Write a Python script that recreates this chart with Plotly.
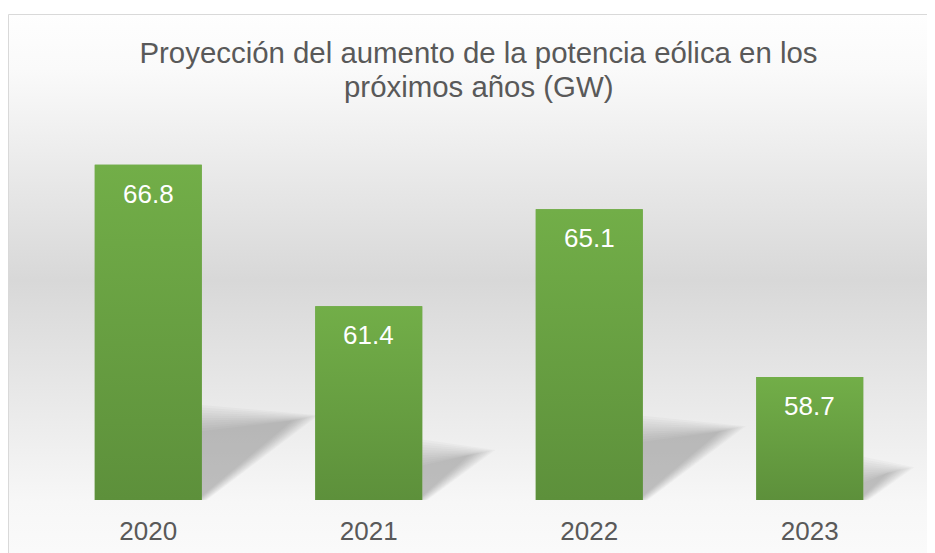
import base64
import plotly.graph_objects as go

# ---- data ----
years = ["2020", "2021", "2022", "2023"]
values = [66.8, 61.4, 65.1, 58.7]
title_line1 = "Proyección del aumento de la potencia eólica en los"
title_line2 = "próximos años (GW)"

# ---- layout constants (page has an 8px body margin) ----
W, H = 927, 545
L, R, T, B = 30, 15, 73, 53
Y_MIN, Y_MAX = 54, 70
BAR_W = 0.485
FONT = "Liberation Sans, Arial, sans-serif"
TXT = "#595959"
TITLE_SIZE = 29.4

plot_w = W - L - R
plot_h = H - T - B
px_per_x = plot_w / len(years)
px_per_y = plot_h / (Y_MAX - Y_MIN)

def paper_x(px):
    return (px - L) / plot_w

def paper_y(py):
    return (H - B - py) / plot_h

xs = list(range(len(years)))

fig = go.Figure()

# solid bars (base layer)
fig.add_trace(go.Bar(x=xs, y=values, width=BAR_W, marker=dict(color="#66a042", line=dict(width=0)),
                     hoverinfo="skip", showlegend=False))

# soft perspective shadows computed from each bar's height
N_LAYERS = 11
for xi, v in zip(xs, values):
    h_px = (v - Y_MIN) * px_per_y
    xr = xi + BAR_W / 2
    dx = 0.31 * h_px / px_per_x
    dy = 0.245 * h_px / px_per_y
    for k in range(N_LAYERS):
        g = (k - 5) * 2.6  # pixels of spread
        gx = g / px_per_x
        gy = g / px_per_y
        sx = [xr, xr, xr + dx + gx, xr]
        sy = [Y_MIN - gy * 0.3, Y_MIN + dy + gy, Y_MIN + dy + gy * 0.2, Y_MIN - gy * 0.3]
        fig.add_trace(go.Scatter(x=sx, y=sy, mode="lines", fill="toself",
                                 fillcolor="rgba(90,90,90,0.037)", line=dict(width=0),
                                 hoverinfo="skip", showlegend=False))

# gradient overlay on bars
for xi, v in zip(xs, values):
    x0, x1 = xi - BAR_W / 2, xi + BAR_W / 2
    fig.add_trace(go.Scatter(
        x=[x0, x1, x1, x0, x0], y=[Y_MIN, Y_MIN, v, v, Y_MIN], mode="lines", fill="toself",
        line=dict(width=0),
        fillgradient=dict(type="vertical", start=Y_MIN, stop=v,
                          colorscale=[[0, "#5d903b"], [1, "#72ae48"]]),
        hoverinfo="skip", showlegend=False))

# data labels
for xi, v in zip(xs, values):
    fig.add_annotation(x=xi, y=v, text=f"{v:.1f}", showarrow=False, yanchor="middle", yshift=-29,
                       font=dict(family=FONT, size=26, color="white"))

# second title line
fig.add_annotation(xref="paper", yref="paper", x=paper_x(470.5), y=paper_y(79), text=title_line2,
                   showarrow=False, xanchor="center", yanchor="middle",
                   font=dict(family=FONT, size=TITLE_SIZE, color=TXT))

# background gradient (chart area) as svg image
svg = ('<svg xmlns="http://www.w3.org/2000/svg" width="100" height="100" viewBox="0 0 100 100" '
       'preserveAspectRatio="none"><defs><linearGradient id="g" x1="0" y1="0" x2="0" y2="1">'
       '<stop offset="0" stop-color="#fefefe"/><stop offset="0.1" stop-color="#fafafa"/>'
       '<stop offset="0.48" stop-color="#d8d8d8"/>'
       '<stop offset="0.88" stop-color="#f7f7f7"/><stop offset="1" stop-color="#fbfbfb"/></linearGradient></defs>'
       '<rect width="100" height="100" fill="url(#g)"/></svg>')
src = "data:image/svg+xml;base64," + base64.b64encode(svg.encode()).decode()
bx0, by0, bx1, by1 = 0, 6, 945, 560
fig.add_layout_image(dict(source=src, xref="paper", yref="paper", x=paper_x(bx0), y=paper_y(by0),
                          sizex=(bx1 - bx0) / plot_w, sizey=(by1 - by0) / plot_h,
                          xanchor="left", yanchor="top", sizing="stretch", layer="below"))
fig.add_shape(type="rect", xref="paper", yref="paper", x0=paper_x(bx0 + 0.5), y0=paper_y(by1),
              x1=paper_x(bx1), y1=paper_y(by0 + 0.5), line=dict(color="#d9d9d9", width=1),
              fillcolor="rgba(0,0,0,0)", layer="above")

fig.update_layout(
    width=W, height=H,
    margin=dict(l=L, r=R, t=T, b=B, autoexpand=False),
    paper_bgcolor="white", plot_bgcolor="rgba(0,0,0,0)",
    title=dict(text=title_line1, x=470.5 / W, xanchor="center",
               y=1 - 45 / H, yanchor="middle", yref="container",
               font=dict(family=FONT, size=TITLE_SIZE, color=TXT)),
    xaxis=dict(range=[-0.5, len(years) - 0.5], tickvals=xs, ticktext=years, showgrid=False,
               zeroline=False, showline=False, ticks="", fixedrange=True, ticklabelstandoff=13,
               automargin=False, tickfont=dict(family=FONT, size=26, color=TXT)),
    yaxis=dict(range=[Y_MIN, Y_MAX], visible=False, fixedrange=True, automargin=False),
    showlegend=False,
)

fig.write_html("out.html")
